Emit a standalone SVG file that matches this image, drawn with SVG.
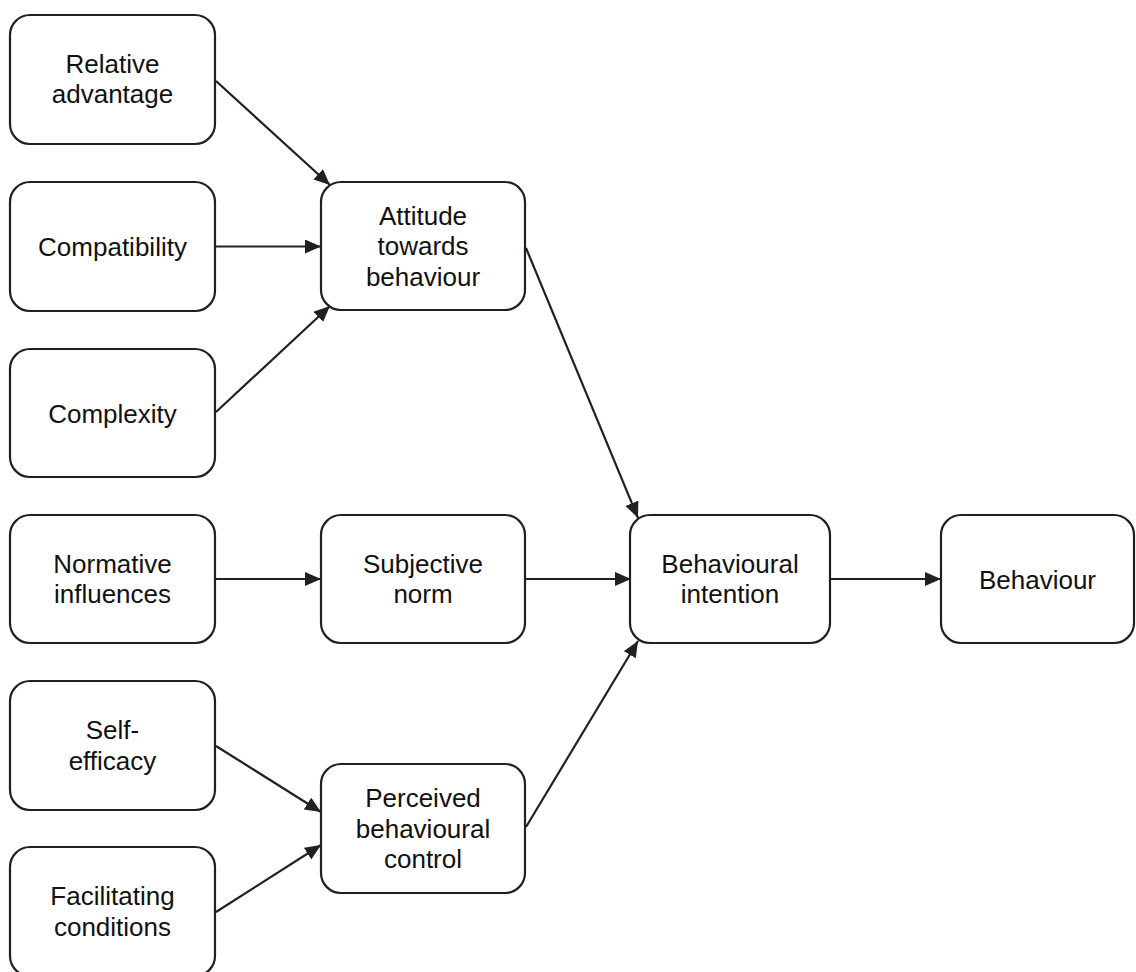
<svg xmlns="http://www.w3.org/2000/svg" width="1136" height="972" viewBox="0 0 1136 972">
<defs>
<marker id="arr" markerUnits="userSpaceOnUse" markerWidth="18" markerHeight="16" refX="16" refY="7" orient="auto">
<path d="M0,0 L16,7 L0,14 z" fill="#231f20"/>
</marker>
<style>
.box{fill:#fff;stroke:#231f20;stroke-width:2.2}
.t{font-family:"Liberation Sans",Arial,sans-serif;font-size:26px;fill:#111;text-anchor:middle}
.c{stroke:#231f20;stroke-width:2.2;fill:none;marker-end:url(#arr)}
</style>
</defs>
<rect width="1136" height="972" fill="#fff"/>
<g id="connectors">
<line class="c" x1="216" y1="81" x2="330" y2="185"/>
<line class="c" x1="216" y1="246.5" x2="321" y2="246.5"/>
<line class="c" x1="216" y1="412" x2="330" y2="306"/>
<line class="c" x1="526" y1="248" x2="638" y2="518"/>
<line class="c" x1="216" y1="579" x2="321" y2="579"/>
<line class="c" x1="526" y1="579" x2="631" y2="579"/>
<line class="c" x1="831" y1="579" x2="941" y2="579"/>
<line class="c" x1="216" y1="746" x2="321" y2="812"/>
<line class="c" x1="216" y1="912" x2="321" y2="845"/>
<line class="c" x1="526" y1="827" x2="638" y2="641"/>
</g>
<g id="relative-advantage"><rect class="box" x="10" y="15" width="205" height="129" rx="20"/><text class="t" x="112.5" y="72.5">Relative</text><text class="t" x="112.5" y="103">advantage</text></g>
<g id="compatibility"><rect class="box" x="10" y="182" width="205" height="129" rx="20"/><text class="t" x="112.5" y="256">Compatibility</text></g>
<g id="complexity"><rect class="box" x="10" y="349" width="205" height="128" rx="20"/><text class="t" x="112.5" y="422.5">Complexity</text></g>
<g id="normative-influences"><rect class="box" x="10" y="515" width="205" height="128" rx="20"/><text class="t" x="112.5" y="572.5">Normative</text><text class="t" x="112.5" y="603">influences</text></g>
<g id="self-efficacy"><rect class="box" x="10" y="681" width="205" height="129" rx="20"/><text class="t" x="112.5" y="739">Self-</text><text class="t" x="112.5" y="769.5">efficacy</text></g>
<g id="facilitating-conditions"><rect class="box" x="10" y="847" width="205" height="129" rx="20"/><text class="t" x="112.5" y="905">Facilitating</text><text class="t" x="112.5" y="935.5">conditions</text></g>
<g id="attitude"><rect class="box" x="321" y="182" width="204" height="128" rx="20"/><text class="t" x="423" y="224.5">Attitude</text><text class="t" x="423" y="255">towards</text><text class="t" x="423" y="285.5">behaviour</text></g>
<g id="subjective-norm"><rect class="box" x="321" y="515" width="204" height="128" rx="20"/><text class="t" x="423" y="572.5">Subjective</text><text class="t" x="423" y="603">norm</text></g>
<g id="perceived-behavioural-control"><rect class="box" x="321" y="764" width="204" height="129" rx="20"/><text class="t" x="423" y="807">Perceived</text><text class="t" x="423" y="837.5">behavioural</text><text class="t" x="423" y="868">control</text></g>
<g id="behavioural-intention"><rect class="box" x="630" y="515" width="200" height="128" rx="20"/><text class="t" x="730" y="572.5">Behavioural</text><text class="t" x="730" y="603">intention</text></g>
<g id="behaviour"><rect class="box" x="941" y="515" width="193" height="128" rx="20"/><text class="t" x="1037.5" y="589">Behaviour</text></g>
</svg>
